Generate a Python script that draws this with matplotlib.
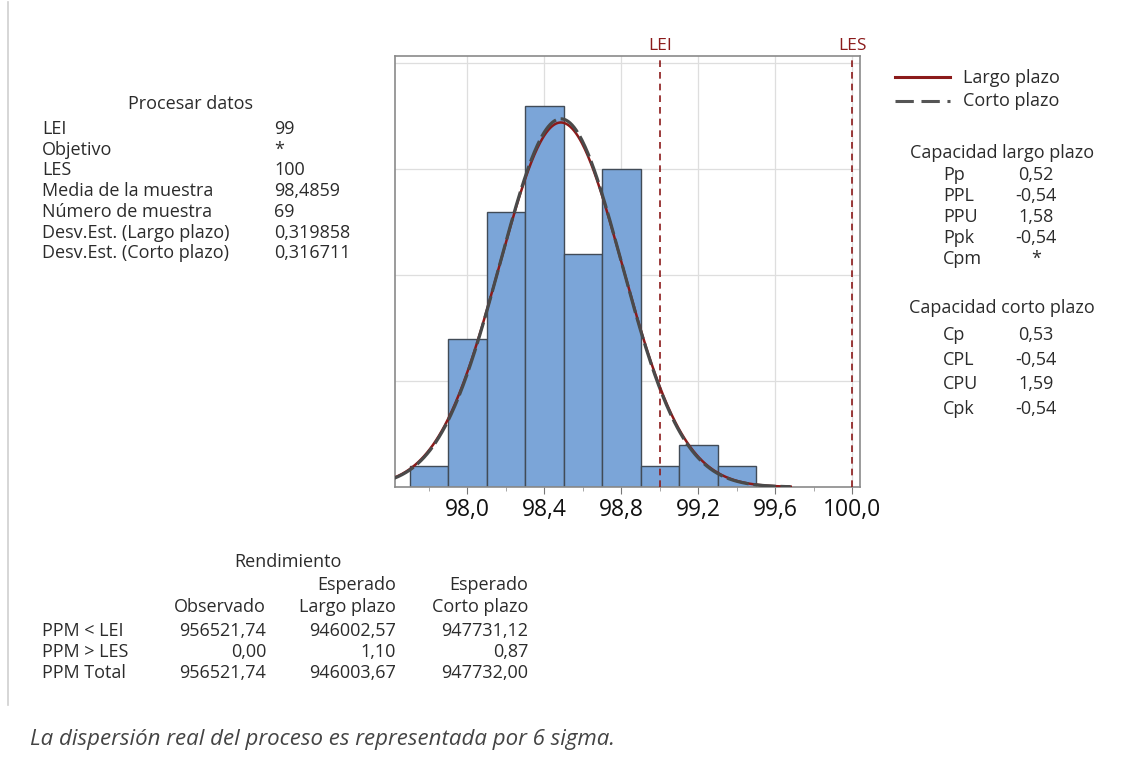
import numpy as np
import matplotlib.pyplot as plt
from matplotlib.ticker import FixedLocator, FuncFormatter

# Datos del histograma (conteos por intervalo de 0,2)
bin_edges = [97.7, 97.9, 98.1, 98.3, 98.5, 98.7, 98.9, 99.1, 99.3, 99.5]
counts = [1, 7, 13, 18, 11, 15, 1, 2, 1]

# Parámetros del proceso
lei = 99
les = 100
media = 98.4859
n_muestra = 69
sd_largo = 0.319858
sd_corto = 0.316711

x_ticks = [98.0, 98.4, 98.8, 99.2, 99.6, 100.0]

proc_labels = ["LEI", "Objetivo", "LES", "Media de la muestra", "Número de muestra",
               "Desv.Est. (Largo plazo)", "Desv.Est. (Corto plazo)"]
proc_values = ["99", "*", "100", "98,4859", "69", "0,319858", "0,316711"]

cap_largo_labels = ["Pp", "PPL", "PPU", "Ppk", "Cpm"]
cap_largo_values = ["0,52", "-0,54", "1,58", "-0,54", "*"]
cap_corto_labels = ["Cp", "CPL", "CPU", "Cpk"]
cap_corto_values = ["0,53", "-0,54", "1,59", "-0,54"]

rend_rows = ["PPM < LEI", "PPM > LES", "PPM Total"]
rend_obs = ["956521,74", "0,00", "956521,74"]
rend_largo = ["946002,57", "1,10", "946003,67"]
rend_corto = ["947731,12", "0,87", "947732,00"]

plt.rcParams['font.family'] = ['Open Sans', 'DejaVu Sans']
TXT = '#2b2b2b'
RED = '#8B1A1A'
W, H = 1134, 774
FS = 13

fig = plt.figure(figsize=(W / 100, H / 100), dpi=100)


def px(x, y):
    return x / W, 1 - y / H


def txt(x, y, s, ha='left', size=FS, **kw):
    fx, fy = px(x, y)
    fig.text(fx, fy, s, ha=ha, va='center', fontsize=size, color=kw.pop('color', TXT), **kw)


# Histograma
ax = fig.add_axes([395 / W, 1 - 487 / H, 465 / W, 431 / H])
widths = np.diff(bin_edges)
ax.bar(bin_edges[:-1], counts, width=widths, align='edge', color='#7BA5D8',
       edgecolor='#414b57', linewidth=1.0, zorder=2)

# Curvas normales ajustadas (largo plazo debajo, corto plazo encima)
xs = np.linspace(97.62, 99.68, 400)
bw = 0.2
for sd, col, ls, lw in [(sd_largo, RED, '-', 1.8), (sd_corto, '#4a4a4a', (0, (7, 1.5)), 2.3)]:
    ys = n_muestra * bw / (sd * np.sqrt(2 * np.pi)) * np.exp(-0.5 * ((xs - media) / sd) ** 2)
    ax.plot(xs, ys, color=col, linestyle=ls, linewidth=lw, zorder=3)

for lim, name in [(lei, "LEI"), (les, "LES")]:
    ax.axvline(lim, color=RED, linestyle=(0, (4, 3)), linewidth=1.2, zorder=4)
    ax.text(lim, 1.004, name, transform=ax.get_xaxis_transform(), ha='center', va='bottom',
            fontsize=12.5, color=RED)

ax.set_xlim(97.624, 100.04)
ax.set_ylim(0, 20.35)
ax.xaxis.set_major_locator(FixedLocator(x_ticks))
ax.xaxis.set_minor_locator(FixedLocator([97.8, 98.2, 98.6, 99.0, 99.4, 99.8]))
ax.xaxis.set_major_formatter(FuncFormatter(lambda v, p: f"{v:.1f}".replace('.', ',')))
ax.set_yticks([5, 10, 15, 20])
ax.tick_params(axis='y', left=False, labelleft=False)
ax.tick_params(axis='x', which='major', length=5, color='#777777', labelsize=16.5,
               labelcolor='#111111', pad=3)
ax.tick_params(axis='x', which='minor', length=3, color='#999999')
ax.grid(True, color='#dedede', linewidth=0.9, zorder=0)
for s in ax.spines.values():
    s.set_color('#8a8a8a')
    s.set_linewidth(1.2)

# Línea del borde izquierdo
fig.add_artist(plt.Line2D([8 / W, 8 / W], [1 - 2 / H, 1 - 705 / H], color='#cfcfcf', linewidth=1.2))

# Procesar datos
txt(190, 104, "Procesar datos", ha='center')
for i, (lab, val) in enumerate(zip(proc_labels, proc_values)):
    y = 129 + i * 20.7
    txt(42, y, lab)
    txt(274, y, val)

# Leyenda
fig.add_artist(plt.Line2D([895 / W, 950 / W], [1 - 77 / H] * 2, color=RED, linewidth=2.2))
fig.add_artist(plt.Line2D([895 / W, 950 / W], [1 - 101 / H] * 2, color='#555555', linewidth=2.2,
                          linestyle=(0, (6, 2.5))))
txt(963, 78, "Largo plazo")
txt(963, 101, "Corto plazo")

# Capacidad
txt(1002, 153, "Capacidad largo plazo", ha='center')
for i, (lab, val) in enumerate(zip(cap_largo_labels, cap_largo_values)):
    y = 175 + i * 21
    txt(943, y, lab)
    txt(1036, y, val, ha='center')
txt(1002, 308, "Capacidad corto plazo", ha='center')
for i, (lab, val) in enumerate(zip(cap_corto_labels, cap_corto_values)):
    y = 335 + i * 24.7
    txt(943, y, lab)
    txt(1036, y, val, ha='center')

# Rendimiento
col_x = [266, 396, 528]
txt(288, 562, "Rendimiento", ha='center')
txt(col_x[1], 585, "Esperado", ha='right')
txt(col_x[2], 585, "Esperado", ha='right')
txt(col_x[0], 607, "Observado", ha='right')
txt(col_x[1], 607, "Largo plazo", ha='right')
txt(col_x[2], 607, "Corto plazo", ha='right')
for i, row in enumerate(rend_rows):
    y = 631 + i * 21
    txt(42, y, row)
    txt(col_x[0], y, rend_obs[i], ha='right')
    txt(col_x[1], y, rend_largo[i], ha='right')
    txt(col_x[2], y, rend_corto[i], ha='right')

txt(30, 740, "La dispersión real del proceso es representada por 6 sigma.", size=16,
    style='italic', color='#444444')

fig.savefig('out.png', dpi=100)
